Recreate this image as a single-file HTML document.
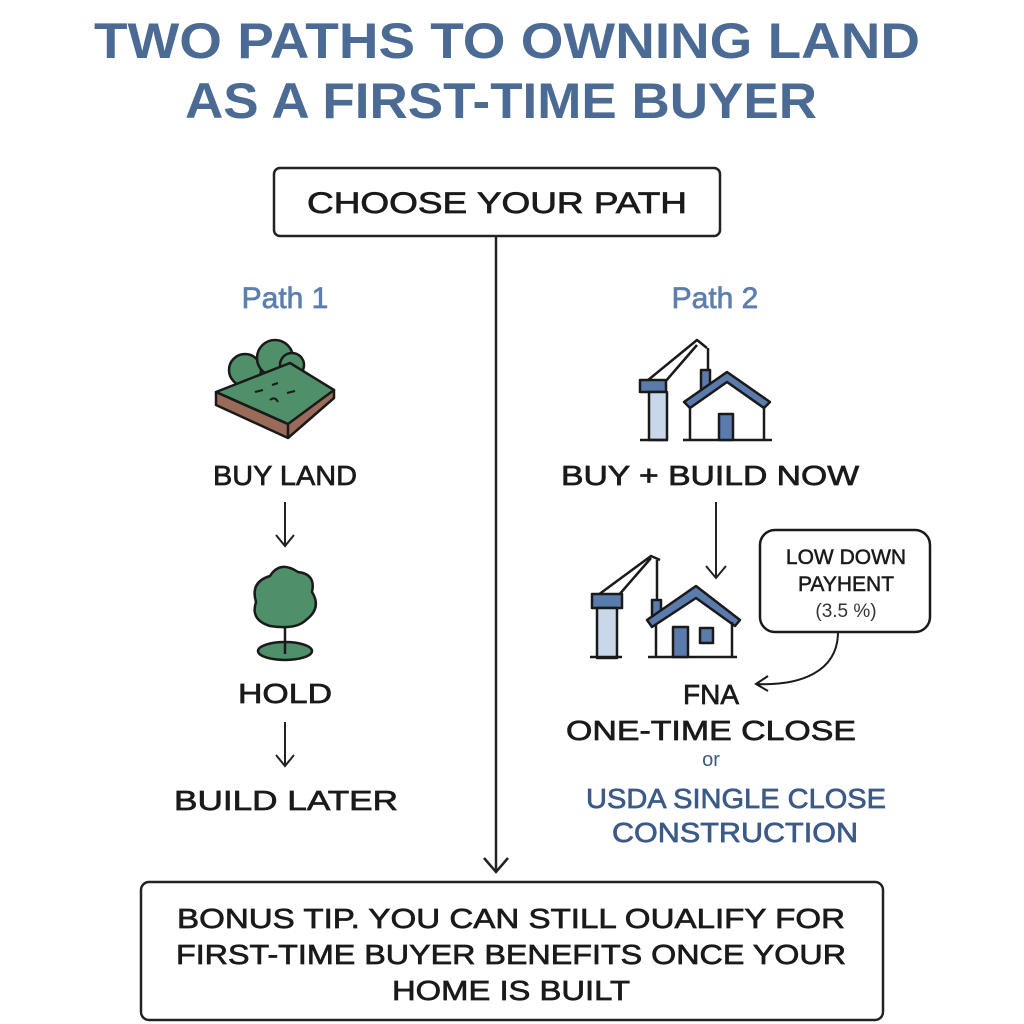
<!DOCTYPE html>
<html><head><meta charset="utf-8"><style>
html,body{margin:0;padding:0;background:#fff;width:1024px;height:1024px;overflow:hidden}
svg{display:block}
text{font-family:"Liberation Sans",sans-serif;text-anchor:middle}
.m{stroke:currentColor;stroke-width:0.7}
</style></head><body>
<svg width="1024" height="1024" viewBox="0 0 1024 1024" xmlns="http://www.w3.org/2000/svg">
<g fill="#4b6b95" font-weight="bold" font-size="50">
<text x="507" y="58" textLength="826" lengthAdjust="spacingAndGlyphs">TWO PATHS TO OWNING LAND</text>
<text x="501" y="118" textLength="632" lengthAdjust="spacingAndGlyphs">AS A FIRST-TIME BUYER</text>
</g>
<rect x="274" y="168" width="446" height="68" rx="6" fill="#fff" stroke="#222" stroke-width="2.5"/>
<g style="color:#1a1a1a">
<text class="m" x="497" y="213" font-size="30" fill="#1a1a1a" textLength="380" lengthAdjust="spacingAndGlyphs">CHOOSE YOUR PATH</text>
</g>
<line x1="496" y1="236" x2="496" y2="872" stroke="#222" stroke-width="2.5"/>
<path d="M484 858 L496 872 L508 858" fill="none" stroke="#222" stroke-width="2.5"/>
<g fill="#5d7fae" font-size="30" style="color:#5d7fae">
<text class="m" x="285" y="308">Path 1</text>
<text class="m" x="715" y="308">Path 2</text>
</g>
<!-- land icon -->
<g stroke="#1a1a1a" stroke-width="2.5" stroke-linejoin="round">
<circle cx="245" cy="370" r="16" fill="#4f8f6a"/>
<circle cx="275" cy="358" r="18" fill="#4f8f6a"/>
<circle cx="292" cy="365" r="12" fill="#4f8f6a"/>
<path d="M216 392 L216 405 L288 438 L334 398 L334 390 Z" fill="#9b6b5a"/>
<path d="M216 392 L288 424 L334 390 L290 363 Z" fill="#4f8f6a"/>
<path d="M216 392 L288 424 L288 438" fill="none"/>
</g>
<g stroke="#1a1a1a" stroke-width="2" fill="none"><path d="M255 392 l8 -2 M272 385 l6 -2 M287 393 l8 -2 M270 400 q5 -4 8 2"/></g>
<g style="color:#1a1a1a" fill="#1a1a1a" font-size="28">
<text class="m" x="285" y="485" textLength="144" lengthAdjust="spacingAndGlyphs">BUY LAND</text>
<text class="m" x="285" y="703" textLength="94" lengthAdjust="spacingAndGlyphs">HOLD</text>
<text class="m" x="286" y="810" textLength="224" lengthAdjust="spacingAndGlyphs">BUILD LATER</text>
<text class="m" x="710" y="485" textLength="298" lengthAdjust="spacingAndGlyphs">BUY + BUILD NOW</text>
<text class="m" x="711" y="704">FNA</text>
<text class="m" x="711" y="740" textLength="290" lengthAdjust="spacingAndGlyphs">ONE-TIME CLOSE</text>
</g>
<g stroke="#222" stroke-width="2" fill="none">
<path d="M285 502 L285 546 M276 535 L285 546 L294 535"/>
<path d="M285 722 L285 766 M276 755 L285 766 L294 755"/>
</g>
<!-- tree -->
<g stroke="#1a1a1a" stroke-width="2.5">
<ellipse cx="285" cy="651" rx="27" ry="9" fill="#4f8f6a"/>
<line x1="285" y1="620" x2="285" y2="654"/>
<path d="M270 626 q-20 -6 -14 -24 q-6 -20 14 -26 q10 -16 28 -4 q18 2 14 20 q10 16 -6 28 q-10 10 -36 6 Z" fill="#4f8f6a"/>
</g>
<!-- crane house 1 -->
<g stroke="#1a1a1a" stroke-width="2.5" stroke-linejoin="round">
<path d="M642 385 L697 340 L707 348 M665 382 L697 345 M708 348 L708 372" fill="none"/>
<rect x="640" y="380" width="26" height="12" fill="#5a7bab"/>
<rect x="649" y="392" width="18" height="48" fill="#c9d7ea"/>
<rect x="701" y="370" width="9" height="20" fill="#5a7bab"/>
<path d="M684 402 L727 372 L770 402 L764 408 L727 382 L690 408 Z" fill="#5a7bab"/>
<path d="M690 406 L690 440 M764 406 L764 440 M640 440 L668 440 M683 440 L772 440" fill="none"/>
<rect x="719" y="414" width="14" height="26" fill="#5a7bab"/>
</g>
<path d="M716 502 L716 578 M706 566 L716 578 L726 566" stroke="#222" stroke-width="2" fill="none"/>
<!-- crane house 2 -->
<g stroke="#1a1a1a" stroke-width="2.5" stroke-linejoin="round">
<path d="M594 598 L651 556 L660 560 M618 596 L651 558 M657 560 L657 602" fill="none"/>
<rect x="592" y="594" width="30" height="14" fill="#5a7bab"/>
<rect x="597" y="608" width="20" height="50" fill="#c9d7ea"/>
<rect x="652" y="600" width="9" height="20" fill="#5a7bab"/>
<path d="M647 620 L696 586 L740 620 L735 626 L696 598 L652 627 Z" fill="#5a7bab"/>
<path d="M656 625 L656 656 M732 622 L732 656 M590 657 L622 657 M648 657 L737 657" fill="none"/>
<rect x="673" y="627" width="15" height="30" fill="#5a7bab"/>
<rect x="700" y="628" width="13" height="15" fill="#5a7bab"/>
</g>
<!-- callout -->
<rect x="760" y="530" width="170" height="102" rx="15" fill="#fff" stroke="#1a1a1a" stroke-width="2.5"/>
<g font-size="21" fill="#1a1a1a" style="color:#1a1a1a">
<text class="m" x="846" y="564" style="stroke-width:0.5">LOW DOWN</text>
<text class="m" x="846" y="591" style="stroke-width:0.5">PAYHENT</text>
<text x="846" y="617" font-size="19" fill="#333">(3.5 %)</text>
</g>
<path d="M838 632 C838 672 800 686 756 684 M768 676 L756 684 L768 691" stroke="#1a1a1a" stroke-width="2" fill="none"/>
<g fill="#3b5a88" style="color:#3b5a88">
<text x="711" y="766" font-size="20">or</text>
<text class="m" x="736" y="808" font-size="28" textLength="300" lengthAdjust="spacingAndGlyphs">USDA SINGLE CLOSE</text>
<text class="m" x="735" y="842" font-size="28" textLength="246" lengthAdjust="spacingAndGlyphs">CONSTRUCTION</text>
</g>
<!-- bottom -->
<rect x="141" y="882" width="742" height="138" rx="8" fill="#fff" stroke="#222" stroke-width="2.5"/>
<g font-size="28" fill="#1a1a1a" style="color:#1a1a1a">
<text class="m" x="511" y="928" textLength="668" lengthAdjust="spacingAndGlyphs">BONUS TIP. YOU CAN STILL OUALIFY FOR</text>
<text class="m" x="511" y="964" textLength="670" lengthAdjust="spacingAndGlyphs">FIRST-TIME BUYER BENEFITS ONCE YOUR</text>
<text class="m" x="511" y="1000" textLength="238" lengthAdjust="spacingAndGlyphs">HOME IS BUILT</text>
</g>
</svg>
</body></html>
